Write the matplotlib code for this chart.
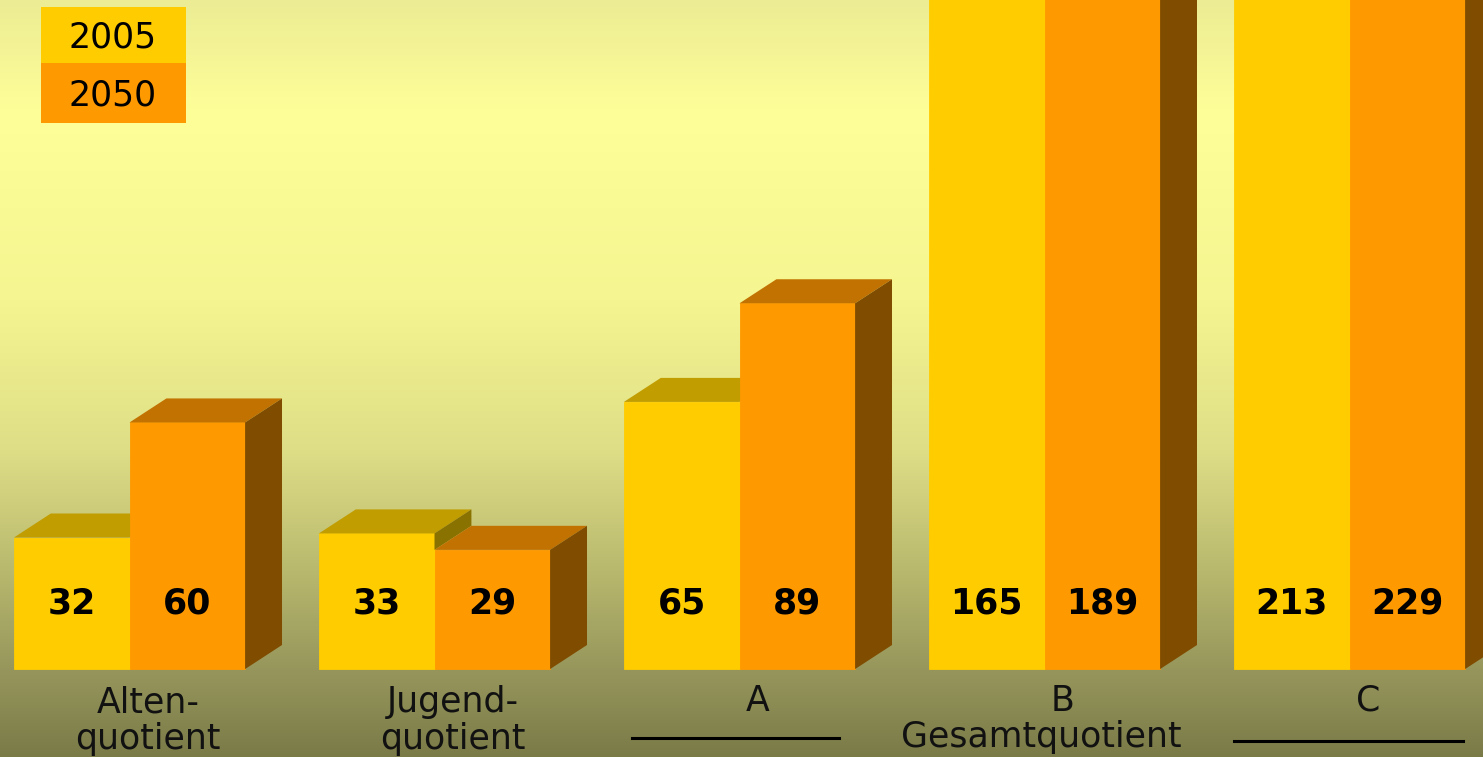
#!/usr/bin/env python

import matplotlib as mpl
mpl.use('Agg')

import matplotlib.pyplot as plt
from matplotlib.patches import Polygon, Rectangle
import numpy as np

# data
categories = ['Alten-\nquotient', 'Jugend-\nquotient', 'A', 'B', 'C']
years = ['2005', '2050']
vals2005 = [32, 33, 65, 165, 213]
vals2050 = [60, 29, 89, 189, 229]

dpi = 100.0
W, H = 1483, 757

front_cols = ['#FFCC00', '#FF9900']
top_cols = ['#C29D00', '#C27200']
side_cols = ['#8A7200', '#804C00']

barw = 0.379      # width of one bar (group spacing = 1)
ddx = 0.121       # 3d depth in x units
ddy = 5.85        # 3d depth in value units
fs = 25


def bgGradient():
    # vertical colour stops (pixel row from top, rgb)
    stops_y = [0, 115, 300, 450, 560, 670, 757]
    stops_c = [(236, 236, 148), (255, 255, 153), (245, 245, 145),
               (222, 222, 135), (188, 188, 112), (150, 150, 92), (122, 122, 72)]
    rows = np.arange(H)
    img = np.zeros((H, 1, 3))
    for k in range(3):
        img[:, 0, k] = np.interp(rows, stops_y, [c[k] for c in stops_c]) / 255.0
    return img


fig = plt.figure(figsize=(W / dpi, H / dpi), dpi=dpi)
ax = fig.add_axes([0, 0, 1, 1])
ax.set_xlim(-0.4246, 4.4377)
ax.set_ylim(-21.4, 162.8)
ax.axis('off')

ax.imshow(bgGradient(), extent=[-0.4246, 4.4377, -21.4, 162.8],
          aspect='auto', zorder=0, interpolation='bilinear')

z = 1
series = [vals2005, vals2050]
for i in range(len(categories)):
    for j, vals in enumerate(series):
        v = vals[i]
        x0 = i - barw + j * barw
        x1 = x0 + barw
        ax.bar(x0, v, width=barw, align='edge', color=front_cols[j],
               edgecolor=front_cols[j], linewidth=0.6, zorder=z)
        top = Polygon([(x0, v), (x1, v), (x1 + ddx, v + ddy), (x0 + ddx, v + ddy)],
                      closed=True, facecolor=top_cols[j], edgecolor='none', zorder=z)
        ax.add_patch(top)
        # side face, only the part not hidden by the next bar
        low = series[j + 1][i] if j + 1 < len(series) else 0
        if v > low:
            side = Polygon([(x1, low), (x1 + ddx, low + ddy), (x1 + ddx, v + ddy), (x1, v)],
                           closed=True, facecolor=side_cols[j], edgecolor='none', zorder=z)
            ax.add_patch(side)
        ax.text(x0 + barw / 2, 16, str(v), ha='center', va='center',
                fontsize=fs, fontweight='bold', color='black', zorder=z + 1)
        z += 2

# category labels
tr = mpl.transforms.blended_transform_factory(ax.transData, ax.transAxes)
for i, cat in enumerate(categories):
    if '\n' in cat:
        ax.text(i + 0.06, 0.048, cat, transform=tr, ha='center', va='center',
                fontsize=fs, linespacing=1.1, color='#111111')
    else:
        ax.text(i + 0.06, 0.074, cat, transform=tr, ha='center', va='center',
                fontsize=fs, color='#111111')

ax.text(3 - 0.01, 0.027, 'Gesamtquotient', transform=tr, ha='center', va='center',
        fontsize=fs, color='#111111')
ax.plot([2 - 0.351, 2 + 0.325], [0.025, 0.025], transform=tr, color='black', lw=2.2)
ax.plot([4 - 0.379, 4 + 0.372], [0.021, 0.021], transform=tr, color='black', lw=2.2)

# legend boxes
leg_y = [0.9168, 0.8375]
leg_h = [0.074, 0.0793]
for j, yr in enumerate(years):
    ax.add_patch(Rectangle((0.02765, leg_y[j]), 0.0978, leg_h[j], transform=ax.transAxes,
                           facecolor=front_cols[j], edgecolor='none', zorder=50))
    ax.text(0.0762, leg_y[j] + leg_h[j] / 2 - 0.003, yr, transform=ax.transAxes,
            ha='center', va='center', fontsize=fs, color='black', zorder=51)

plt.savefig('out.png', dpi=dpi)
plt.close()
